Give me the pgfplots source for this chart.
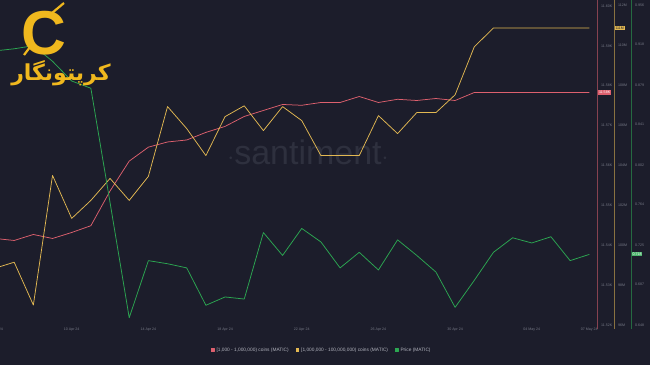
\documentclass[border=0pt]{standalone}
\usepackage{pgfplots}
\pgfplotsset{compat=1.18}
\usepackage{fontspec}
\setmainfont{Liberation Sans}
\newfontfamily\arabicfont[Script=Arabic]{DejaVu Sans}
\TeXXeTstate=1
\definecolor{bg}{RGB}{28,29,43}
\definecolor{redc}{RGB}{221,96,110}
\definecolor{yelc}{RGB}{226,184,82}
\definecolor{grnc}{RGB}{44,168,82}
\definecolor{tickc}{RGB}{118,121,134}
\definecolor{legc}{RGB}{178,180,190}
\definecolor{wmk}{RGB}{46,48,62}
\definecolor{logoy}{RGB}{240,184,30}
\newcommand{\tfont}{\fontsize{3.6}{4}\selectfont}
\pgfplotsset{
  base/.style={
    at={(0pt,40pt)}, anchor=south west,
    width=596pt, height=325pt, scale only axis,
    xmin=0.26, xmax=31.35,
    axis line style={draw=none}, tick style={draw=none},
    clip mode=individual,
    /pgf/number format/assume math mode=true,
    yticklabel pos=right,
    yticklabel style={font=\tfont, text=tickc, anchor=west, inner sep=0pt},
    xtick=\empty,
    every axis plot/.append style={mark=none, line width=0.75pt, line join=round},
  }
}
\begin{document}
\begin{tikzpicture}
\fill[bg] (0,0) rectangle (650pt,365pt);
\useasboundingbox (0,0) rectangle (650pt,365pt);
% watermark
\node[text=wmk, font=\fontsize{34}{34}\selectfont] at (308pt,213pt) {$\cdot$santiment$\cdot$};
% right axis lines
\draw[redc!55!bg, line width=0.5pt] (597pt,36pt) -- (597pt,365pt);
\draw[yelc!55!bg, line width=0.5pt] (614pt,36pt) -- (614pt,365pt);
\draw[grnc!55!bg, line width=0.5pt] (631pt,36pt) -- (631pt,365pt);

% red series axis
\begin{axis}[base,
  ymin=11520, ymax=11601.5,
  ytick={11520,11530,11540,11550,11560,11570,11580,11590,11600},
  yticklabels={11.52K,11.53K,11.54K,11.55K,11.56K,11.57K,11.58K,11.59K,11.60K},
  yticklabel style={xshift=5pt},
  xtick={4,8,12,16,20,24,28,31},
  xticklabels={10 Apr 24,14 Apr 24,18 Apr 24,22 Apr 24,26 Apr 24,30 Apr 24,04 May 24,07 May 24},
  xticklabel style={font=\tfont, text=tickc, inner sep=0pt, yshift=-2.5pt},
  legend columns=-1,
  legend style={at={(0.54,-0.077)}, anchor=center, draw=none, fill=none,
    font=\fontsize{4.8}{5}\selectfont, text=legc,
    /tikz/every even column/.append style={column sep=5pt},
    inner sep=0pt},
  legend image code/.code={\fill[#1] (0pt,-1.7pt) rectangle (2.7pt,1.7pt);},
]
\addplot[color=redc] coordinates {
(0,11541.7)(1,11541.2)(2,11542.7)(3,11541.7)(4,11543.2)(5,11544.9)(6,11553.6)(7,11561.1)
(8,11564.6)(9,11565.9)(10,11566.4)(11,11568.3)(12,11569.8)(13,11572.3)(14,11573.8)(15,11575.3)
(16,11575.1)(17,11575.8)(18,11575.8)(19,11577.3)(20,11575.8)(21,11576.6)(22,11576.3)(23,11576.8)
(24,11576.3)(25,11578.3)(26,11578.3)(27,11578.3)(28,11578.3)(29,11578.3)(30,11578.3)(31,11578.3)};
\addlegendentry{[1,000 - 1,000,000) coins (MATIC)}
\addlegendimage{color=yelc}
\addlegendentry{[1,000,000 - 100,000,000) coins (MATIC)}
\addlegendimage{color=grnc}
\addlegendentry{Price (MATIC)}
\node[font=\tfont, text=tickc, inner sep=0pt, anchor=north] at (axis cs:0,11520) [yshift=-2.5pt] {06 Apr 24};
\node[fill=redc, text=white, font=\tfont, inner sep=0.8pt, anchor=west] at (axis cs:31.35,11578.3) [xshift=2pt] {11.58K};
\end{axis}

% yellow series axis
\begin{axis}[base,
  ymin=96, ymax=112.25,
  ytick={96,98,...,112},
  yticklabels={96M,98M,100M,102M,104M,106M,108M,110M,112M},
  yticklabel style={xshift=22pt},
]
\addplot[color=yelc] coordinates {
(0,98.84)(1,99.14)(2,97.00)(3,103.48)(4,101.33)(5,102.23)(6,103.33)(7,102.23)
(8,103.43)(9,106.92)(10,105.82)(11,104.47)(12,106.42)(13,106.96)(14,105.72)(15,106.92)
(16,106.22)(17,104.47)(18,104.47)(19,104.47)(20,106.47)(21,105.57)(22,106.62)(23,106.62)
(24,107.51)(25,109.91)(26,110.85)(27,110.85)(28,110.85)(29,110.85)(30,110.85)(31,110.85)};
\node[fill=yelc, text=bg, font=\tfont, inner sep=0.8pt, anchor=west] at (axis cs:31.35,110.85) [xshift=18.5pt] {111M};
\end{axis}

% price axis
\begin{axis}[base,
  ymin=0.648, ymax=0.961,
  ytick={0.648,0.687,0.725,0.764,0.802,0.841,0.879,0.918,0.956},
  yticklabels={0.648,0.687,0.725,0.764,0.802,0.841,0.879,0.918,0.956},
  yticklabel style={xshift=39pt},
]
\addplot[color=grnc] coordinates {
(0,0.912)(1,0.914)(2,0.917)(3,0.902)(4,0.883)(5,0.876)(6,0.766)(7,0.655)
(8,0.710)(9,0.707)(10,0.703)(11,0.667)(12,0.675)(13,0.673)(14,0.737)(15,0.715)
(16,0.741)(17,0.728)(18,0.703)(19,0.718)(20,0.701)(21,0.730)(22,0.715)(23,0.699)
(24,0.665)(25,0.691)(26,0.718)(27,0.732)(28,0.727)(29,0.733)(30,0.710)(31,0.716)};
\node[fill=grnc!85!white, text=white, font=\tfont, inner sep=0.8pt, anchor=west] at (axis cs:31.35,0.716) [xshift=35.5pt] {0.718};
\end{axis}

% logo
\node[text=logoy, font=\fontsize{62}{62}\selectfont\bfseries] at (44pt,332pt) {C};
\draw[logoy, line width=2.2pt] (52pt,352pt) -- (64pt,362pt);
\draw[logoy, line width=2.2pt] (30pt,318pt) -- (24pt,310pt);
\node[text=logoy, font=\arabicfont\fontsize{22}{22}\selectfont\bfseries] at (61pt,292pt) {\beginR کرپتونگار\endR};
\end{tikzpicture}
\end{document}
